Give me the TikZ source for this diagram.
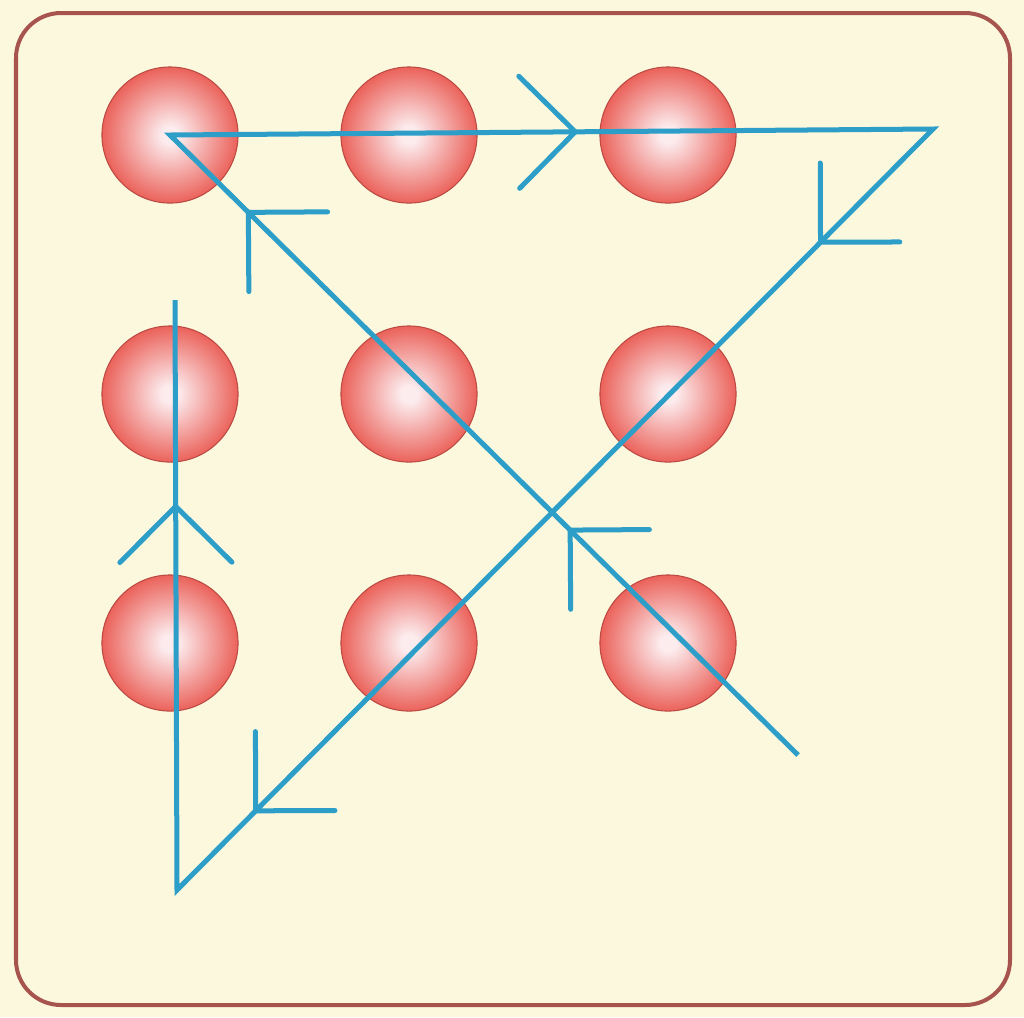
\documentclass[tikz,border=0pt]{standalone}
\usetikzlibrary{decorations.markings}
\definecolor{paperCream}{RGB}{252,248,222}
\definecolor{frameRed}{RGB}{168,84,78}
\definecolor{dotRed}{RGB}{234,92,84}
\definecolor{dotCore}{RGB}{252,236,238}
\definecolor{lineBlue}{RGB}{44,158,200}
\pgfdeclareradialshading{dotshade}{\pgfpoint{0bp}{0bp}}{%
  color(0bp)=(dotCore); color(3bp)=(dotCore);
  color(26bp)=(dotRed); color(50bp)=(dotRed)}

\begin{document}
\begin{tikzpicture}[
  x=0.01cm, y=-0.01cm,
  dot/.style={
    circle, minimum size=1.36cm, inner sep=0pt,
    shading=dotshade, draw=dotRed!80!black, line width=0.3pt
  },
  trail/.style={draw=lineBlue, line width=0.05cm, line join=miter},
  chev/.style={postaction={decorate, decoration={markings,
    mark=at position #1 with {
      \draw[lineBlue, line width=0.05cm, line cap=round]
        (-0.56cm,0.56cm) -- (0,0) -- (-0.56cm,-0.56cm);}}}}
]
  \fill[paperCream] (0,0) rectangle (1024,1017);
  \useasboundingbox (0,0) rectangle (1024,1017);

  % frame
  \draw[frameRed, line width=0.04cm, rounded corners=0.45cm]
    (16,13) rectangle (1010,1005);

  % the nine dots
  \foreach \c/\x in {1/170,2/409,3/668}
    \foreach \r/\y in {1/135,2/394,3/643}
      \node[dot] (d\r\c) at (\x,\y) {};

  % corners of the four strokes
  \coordinate (start) at (798,755);
  \coordinate (turnA) at (933,129);
  \coordinate (turnB) at (177,890);
  \coordinate (stop)  at (175,300);

  % one stroke, four lines
  \draw[trail, chev=3.2cm, chev=7.72cm, chev=12.87cm,
        chev=18.04cm, chev=26.05cm, chev=31.0cm]
    (start) -- (d11.center) -- (turnA) -- (turnB) -- (stop);
\end{tikzpicture}
\end{document}
